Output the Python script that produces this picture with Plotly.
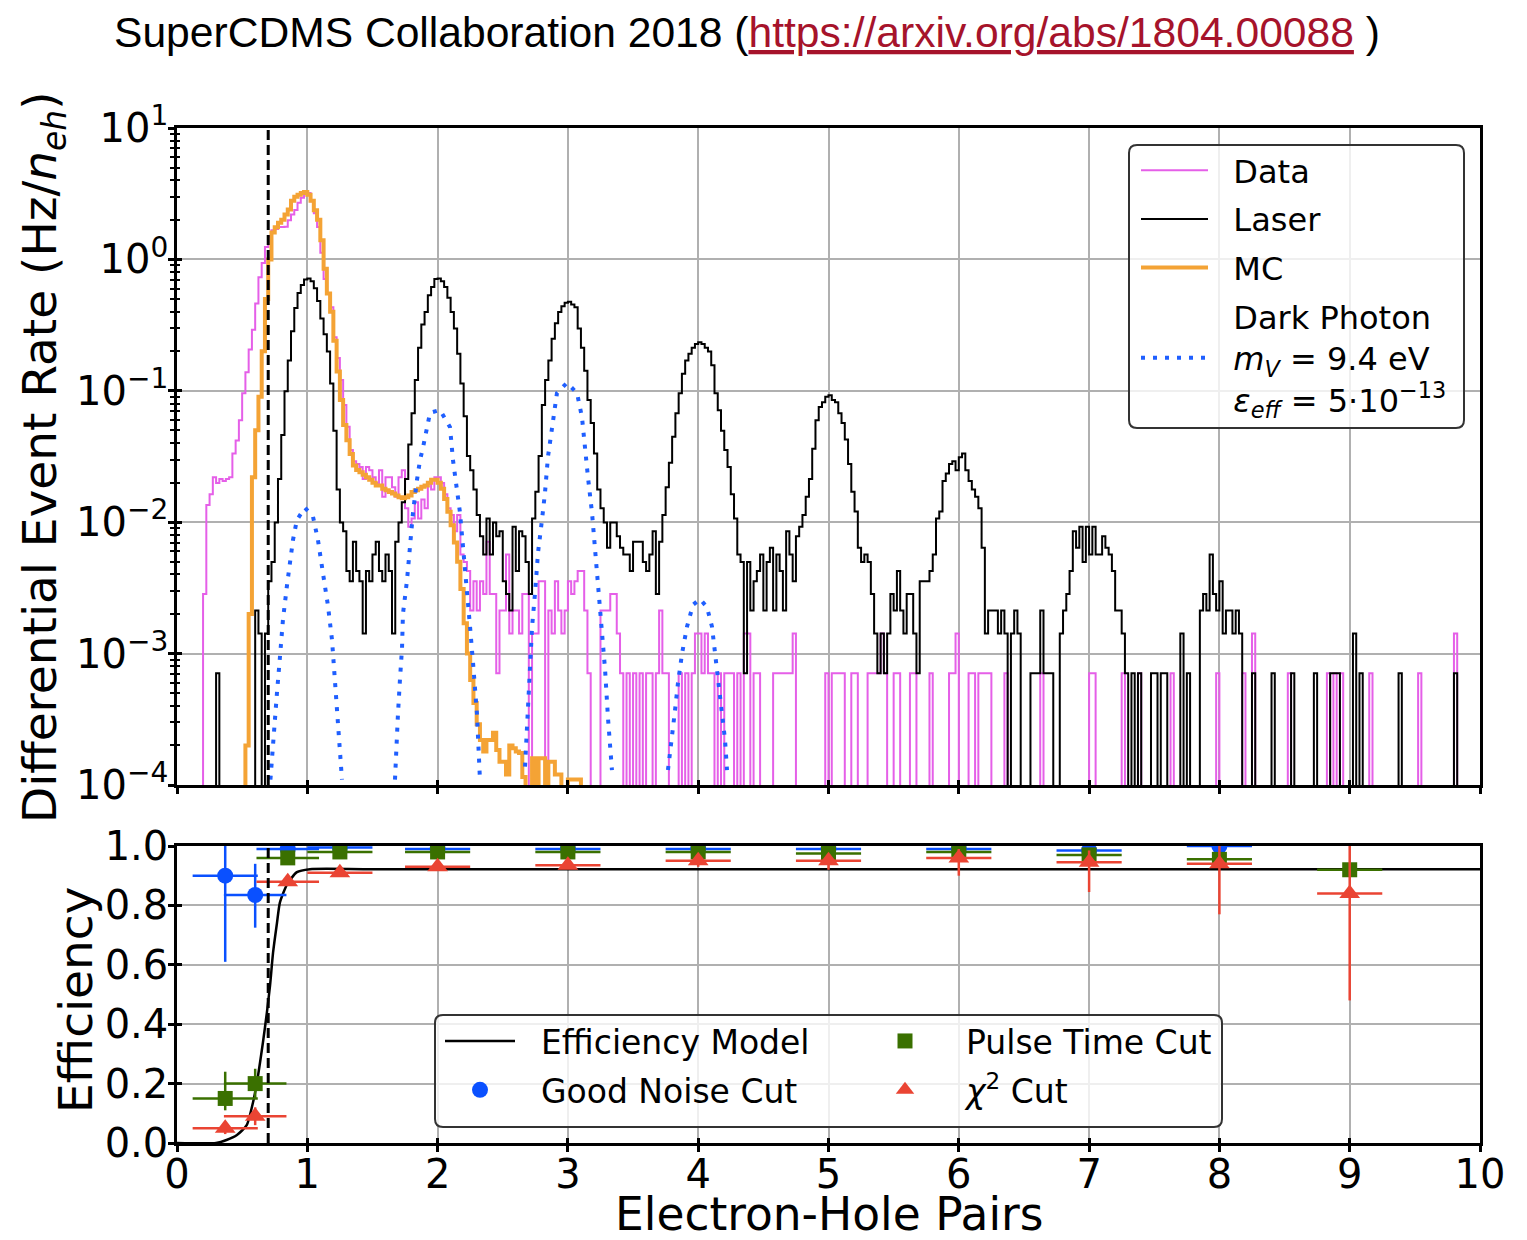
import numpy as np
import plotly.graph_objects as go

# ------------------------------------------------------------------ data
BIN_WIDTH = 0.025          # electron-hole pairs per histogram bin
N_BINS = 400               # 0 .. 10 pairs
RATE_PER_COUNT = 7.1e-4    # Hz / n_eh corresponding to one event in a bin
THRESHOLD = 0.7            # analysis threshold (dashed line)

# Data histogram (counts per bin), 10 bins per row
DATA_COUNTS = [
    0, 0, 0, 0, 0, 0, 0, 0, 4, 19,
    23, 31, 28, 30, 29, 30, 31, 47, 59, 84,
    135, 195, 290, 410, 650, 1030, 1320, 1750, 2100, 2350,
    2400, 2480, 2480, 2500, 2800, 3100, 3340, 3800, 4140, 4600,
    4500, 3900, 3160, 2480, 1580, 1000, 780, 610, 360, 250,
    170, 110, 75, 50, 41, 39, 37, 30, 37, 35,
    31, 28, 35, 22, 31, 31, 26, 22, 31, 35,
    18, 13, 15, 20, 15, 21, 18, 28, 25, 31,
    31, 28, 23, 18, 16, 12, 16, 8, 7, 6,
    3, 5, 3, 5, 4, 10, 4, 4, 1, 3,
    3, 8, 2, 3, 3, 2, 4, 4, 0, 2,
    2, 5, 5, 0, 3, 2, 5, 3, 2, 3,
    5, 4, 5, 6, 6, 3, 1, 0, 0, 0,
    3, 3, 3, 4, 4, 2, 1, 0, 1, 0,
    1, 0, 1, 0, 1, 1, 0, 1, 3, 1,
    1, 0, 0, 0, 1, 0, 1, 0, 1, 2,
    2, 1, 2, 1, 1, 0, 1, 0, 1, 1,
    1, 0, 1, 0, 2, 2, 0, 1, 1, 0,
    0, 0, 0, 1, 1, 1, 1, 1, 1, 2,
    0, 0, 0, 0, 0, 0, 0, 0, 0, 1,
    0, 1, 1, 1, 1, 0, 0, 1, 1, 0,
    0, 0, 1, 1, 1, 1, 2, 1, 0, 0,
    1, 1, 0, 0, 0, 1, 1, 0, 0, 0,
    0, 1, 0, 0, 0, 0, 0, 1, 1, 2,
    0, 0, 0, 1, 1, 0, 1, 1, 1, 1,
    0, 0, 0, 0, 1, 0, 0, 0, 0, 0,
    0, 0, 0, 0, 0, 1, 0, 0, 0, 0,
    0, 0, 0, 0, 0, 0, 0, 0, 0, 0,
    1, 1, 0, 0, 0, 0, 0, 0, 0, 0,
    1, 0, 0, 0, 0, 1, 0, 0, 0, 0,
    0, 0, 0, 0, 0, 1, 0, 0, 0, 0,
    0, 0, 0, 0, 0, 0, 0, 0, 0, 1,
    0, 0, 0, 0, 0, 0, 0, 1, 0, 0,
    2, 0, 0, 0, 0, 0, 0, 0, 0, 0,
    0, 1, 0, 0, 0, 0, 0, 0, 0, 0,
    0, 0, 0, 1, 0, 1, 0, 1, 0, 0,
    0, 0, 0, 0, 0, 0, 1, 0, 0, 0,
    0, 0, 0, 0, 0, 0, 0, 0, 0, 0,
    0, 1, 0, 0, 0, 0, 0, 0, 0, 0,
    0, 0, 2, 0, 0, 0, 0, 0, 0, 0,
]

# Laser calibration histogram (counts per bin), 10 bins per row
LASER_COUNTS = [
    0, 0, 0, 0, 0, 0, 0, 0, 0, 0,
    0, 0, 1, 0, 0, 0, 0, 0, 0, 0,
    0, 0, 0, 0, 3, 2, 0, 2, 5, 7,
    14, 30, 65, 140, 240, 400, 600, 780, 900, 990,
    1010, 960, 850, 680, 500, 380, 280, 160, 70, 25,
    14, 12, 6, 5, 10, 6, 5, 2, 6, 5,
    8, 10, 6, 5, 8, 6, 2, 10, 14, 20,
    30, 55, 95, 170, 300, 450, 560, 750, 870, 1000,
    1010, 960, 870, 720, 560, 420, 270, 160, 90, 45,
    35, 25, 16, 11, 8, 15, 8, 14, 11, 12,
    5, 4, 3, 13, 6, 12, 11, 7, 4, 15,
    24, 45, 110, 170, 240, 350, 460, 560, 620, 660,
    670, 640, 610, 420, 300, 200, 120, 80, 47, 25,
    18, 14, 9, 14, 14, 11, 9, 8, 8, 6,
    10, 10, 10, 7, 6, 8, 12, 4, 10, 16,
    26, 40, 63, 95, 135, 190, 240, 270, 300, 320,
    330, 320, 300, 280, 220, 135, 100, 70, 50, 37,
    23, 15, 8, 7, 1, 7, 3, 5, 6, 8,
    3, 7, 9, 3, 8, 6, 3, 12, 8, 5,
    11, 13, 16, 22, 30, 51, 84, 106, 115, 127,
    130, 120, 115, 95, 80, 60, 39, 24, 17, 9,
    7, 8, 7, 4, 2, 1, 2, 1, 2, 4,
    3, 6, 3, 2, 4, 4, 2, 1, 5, 5,
    5, 6, 8, 15, 17, 29, 33, 39, 41, 35,
    44, 47, 35, 29, 25, 22, 18, 9, 2, 3,
    3, 3, 2, 3, 2, 0, 2, 3, 2, 0,
    0, 0, 1, 1, 1, 3, 1, 1, 1, 0,
    0, 2, 3, 4, 6, 12, 9, 13, 7, 13,
    8, 13, 8, 8, 11, 9, 8, 6, 3, 3,
    2, 1, 0, 1, 0, 1, 0, 0, 0, 1,
    1, 0, 1, 1, 0, 0, 0, 0, 2, 0,
    1, 0, 0, 0, 3, 4, 3, 8, 4, 3,
    5, 2, 3, 3, 2, 3, 2, 0, 0, 0,
    1, 0, 0, 0, 0, 0, 1, 0, 0, 0,
    0, 0, 1, 0, 0, 0, 0, 0, 0, 1,
    0, 0, 0, 0, 1, 1, 1, 0, 0, 0,
    0, 2, 0, 1, 0, 0, 0, 0, 0, 0,
    0, 0, 0, 0, 0, 1, 0, 0, 0, 0,
    0, 0, 0, 0, 0, 0, 0, 0, 0, 0,
    0, 0, 1, 0, 0, 0, 0, 0, 0, 0,
]

# Monte-Carlo prediction (Hz / n_eh), bins starting at MC_FIRST_BIN
MC_FIRST_BIN = 21
MC_RATE = [
    2e-4, 2e-3, 0.022, 0.05, 0.09, 0.2, 0.5, 1.0, 1.6,
    1.76, 1.9, 2.0, 2.2, 2.4, 2.8, 3.0, 3.1, 3.2, 3.26,
    3.1, 2.8, 2.37, 2.0, 1.4, 0.85, 0.55, 0.40, 0.24, 0.14,
    0.085, 0.055, 0.042, 0.033, 0.027, 0.025, 0.024, 0.023, 0.022, 0.021,
    0.020, 0.019, 0.019, 0.018, 0.0175, 0.017, 0.0165, 0.016, 0.0155, 0.0152,
    0.0155, 0.016, 0.017, 0.0175, 0.018, 0.0186, 0.019, 0.020, 0.021, 0.021,
    0.020, 0.018, 0.015, 0.012, 0.0095, 0.007, 0.005, 0.0031, 0.0017, 0.001,
    6.3e-4, 4.2e-4, 2.9e-4, 2.2e-4, 1.8e-4, 2.2e-4, 2.2e-4, 2.5e-4, 1.85e-4, 1.5e-4,
    1.5e-4, 1.2e-4, 2e-4, 1.9e-4, 1.8e-4, 1.75e-4, 1.15e-4, 0, 0, 1.6e-4,
    0, 1.6e-4, 1.6e-4, 0, 1.5e-4, 1.5e-4, 1.2e-4, 1.2e-4, 0, 0,
    1.1e-4, 1.1e-4, 1.1e-4, 1.1e-4,
]

# Dark photon signal model (m_V = 9.4 eV), None separates the peaks
DP_X = [0.717, 0.737, 0.767, 0.79, 0.813, 0.844, 0.867, 0.89, 0.92, 0.982, 1.044,
        1.082, 1.12, 1.159, 1.19, 1.213, 1.236, 1.266, None,
        1.673, 1.688, 1.696, 1.711, 1.727, 1.734, 1.765, 1.788, 1.811, 1.842,
        1.865, 1.888, 1.942, 2.018, 2.095, 2.118, 2.149, 2.172, 2.195, 2.226,
        2.249, 2.272, 2.302, 2.325, None,
        2.671, 2.694, 2.709, 2.725, 2.748, 2.771, 2.801, 2.824, 2.847, 2.878,
        2.916, 2.993, 3.07, 3.108, 3.131, 3.154, 3.185, 3.208, 3.231, 3.262,
        3.285, 3.308, 3.338, None,
        3.768, 3.799, 3.822, 3.845, 3.876, 3.914, 3.96, 4.014, 4.067, 4.106,
        4.129, 4.152, 4.183, 4.206, 4.221]
DP_Y = [1.1e-4, 2.2e-4, 5e-4, 9.4e-4, 1.8e-3, 3.3e-3, 5.2e-3, 7.3e-3, 0.0104, 0.0129, 0.011,
        7.3e-3, 4.1e-3, 2.3e-3, 1.26e-3, 6.3e-4, 3e-4, 1.1e-4, None,
        1.1e-4, 1.95e-4, 3.5e-4, 6.3e-4, 1.1e-3, 2e-3, 3.6e-3, 6.5e-3, 0.0118, 0.021,
        0.0297, 0.037, 0.068, 0.0714, 0.053, 0.0297, 0.0186, 0.0118, 6.5e-3, 3.2e-3,
        1.6e-3, 8.5e-4, 3.5e-4, 1.1e-4, None,
        1.38e-4, 4.2e-4, 7.9e-4, 1.6e-3, 2.9e-3, 5.9e-3, 0.0104, 0.0167, 0.0314, 0.05,
        0.096, 0.115, 0.096, 0.063, 0.04, 0.022, 0.0118, 6.5e-3, 3.5e-3, 1.6e-3,
        7.6e-4, 3.2e-4, 1.3e-4, None,
        1.3e-4, 2.2e-4, 3.7e-4, 6e-4, 1.0e-3, 1.6e-3, 2.35e-3, 2.6e-3, 2.26e-3, 1.6e-3,
        1e-3, 6e-4, 3.7e-4, 2.2e-4, 1.3e-4]

# Efficiency model curve
EFF_MODEL_X = [0.0, 0.30, 0.38, 0.46, 0.535, 0.585, 0.61, 0.66, 0.69, 0.714, 0.737,
               0.767, 0.79, 0.844, 0.92, 1.02, 1.5, 10.0]
EFF_MODEL_Y = [0.0, 0.0, 0.01, 0.027, 0.06, 0.14, 0.195, 0.34, 0.44, 0.53, 0.64,
               0.74, 0.81, 0.87, 0.912, 0.922, 0.922, 0.922]

# Measured cut efficiencies
EFF_X = [0.37, 0.60, 0.85, 1.25, 2, 3, 4, 5, 6, 7, 8, 9]
EFF_XERR = [0.25, 0.24, 0.24, 0.25, 0.25, 0.25, 0.25, 0.25, 0.25, 0.25, 0.25, 0.25]

NOISE_X = [0.37, 0.60, 0.85, 1.25, 2, 3, 4, 5, 6, 7, 8]
NOISE_XERR = [0.25, 0.24, 0.24, 0.25, 0.25, 0.25, 0.25, 0.25, 0.25, 0.25, 0.25]
NOISE_Y = [0.90, 0.835, 0.99, 0.995, 0.99, 0.99, 0.99, 0.99, 0.99, 0.985, 1.0]
NOISE_EP = [0.10, 0.105, 0.01, 0.005, 0.01, 0.01, 0.01, 0.01, 0.01, 0.01, 0.01]
NOISE_EM = [0.29, 0.11, 0.01, 0.005, 0.01, 0.01, 0.01, 0.01, 0.01, 0.01, 0.01]

PULSE_Y = [0.15, 0.20, 0.96, 0.98, 0.98, 0.98, 0.98, 0.975, 0.98, 0.97, 0.955, 0.92]
PULSE_EP = [0.09, 0.05, 0.01, 0.01, 0.01, 0.01, 0.01, 0.01, 0.01, 0.01, 0.01, 0.005]
PULSE_EM = [0.04, 0.05, 0.01, 0.01, 0.01, 0.01, 0.01, 0.01, 0.01, 0.01, 0.01, 0.005]

CHI2_Y = [0.05, 0.09, 0.88, 0.91, 0.93, 0.935, 0.95, 0.95, 0.96, 0.945, 0.94, 0.84]
CHI2_EP = [0.02, 0.03, 0.01, 0.01, 0.01, 0.01, 0.01, 0.02, 0.03, 0.04, 0.06, 0.17]
CHI2_EM = [0.02, 0.03, 0.01, 0.01, 0.01, 0.01, 0.02, 0.03, 0.06, 0.10, 0.17, 0.36]

Y_TICK_VALS = [1e-4, 1e-3, 1e-2, 1e-1, 1e0, 1e1]
Y_TICK_TEXT = ["10<sup>\u22124</sup>", "10<sup>\u22123</sup>", "10<sup>\u22122</sup>",
               "10<sup>\u22121</sup>", "10<sup>0</sup>", "10<sup>1</sup>"]
Y_MINOR_VALS = [m * 10.0 ** e for e in range(-4, 1) for m in range(2, 10)]
X_TICK_VALS = list(range(0, 11))
EFF_TICK_VALS = [0.0, 0.2, 0.4, 0.6, 0.8, 1.0]

# ------------------------------------------------------------------ layout geometry
W, H = 1527, 1240
PL, PR, PT, PB = 177, 1480, 128, 1143


def px2x(px):
    return (px - PL) / (PR - PL)


def px2y(py):
    return (PB - py) / (PB - PT)


FONT = "DejaVu Sans"
BLACK = "#000000"
GRID = "#b0b0b0"
FLOOR = 1e-9   # empty bins are drawn down below the log-axis floor
SP = "\u00a0\u00a0"   # gap between legend symbol and label


def step_xy(values, first_bin=0, scale=1.0):
    v = np.asarray(values, dtype=float) * scale
    n = len(v)
    e = (first_bin + np.arange(n + 1)) * BIN_WIDTH
    y = np.where(v > 0, v, FLOOR)
    xs = np.concatenate([[e[0]], e[:-1], [e[-1]]])
    ys = np.concatenate([[FLOOR], y, [FLOOR]])
    return xs, ys


fig = go.Figure()

# ---- top panel: spectra
dx, dy = step_xy(DATA_COUNTS, 0, RATE_PER_COUNT)
fig.add_trace(go.Scatter(x=dx, y=dy, mode="lines", line=dict(color="#e55fe8", width=2, shape="hv"),
                         name=SP + "Data", legendgroup="g1", xaxis="x", yaxis="y", legend="legend"))
lx, ly = step_xy(LASER_COUNTS, 0, RATE_PER_COUNT)
fig.add_trace(go.Scatter(x=lx, y=ly, mode="lines", line=dict(color=BLACK, width=2, shape="hv"),
                         name=SP + "Laser", legendgroup="g2", xaxis="x", yaxis="y", legend="legend"))
mx, my = step_xy(MC_RATE, MC_FIRST_BIN, 1.0)
fig.add_trace(go.Scatter(x=mx, y=my, mode="lines", line=dict(color="#f4a335", width=4, shape="hv"),
                         name=SP + "MC", legendgroup="g3", xaxis="x", yaxis="y", legend="legend"))
fig.add_trace(go.Scatter(x=DP_X, y=DP_Y, mode="lines", connectgaps=False,
                         line=dict(color="#1f5fff", width=4, dash="4px,8px"),
                         name=SP + "Dark Photon<br>" + SP + "<i>m</i><sub><i>V</i></sub> = 9.4 eV<br>" + SP +
                              "<i>\u03b5</i><sub><i>eff</i></sub> = 5\u00b710<sup>\u221213</sup>",
                         legendgroup="g4", xaxis="x", yaxis="y", legend="legend"))

# ---- bottom panel: efficiencies
fig.add_trace(go.Scatter(x=EFF_MODEL_X, y=EFF_MODEL_Y, mode="lines",
                         line=dict(color=BLACK, width=2.5, shape="spline", smoothing=0.6),
                         name=SP + "Efficiency Model", legendgroup="h1",
                         xaxis="x2", yaxis="y2", legend="legend2"))
fig.add_trace(go.Scatter(x=NOISE_X, y=NOISE_Y, mode="markers",
                         marker=dict(color="#0a50ff", size=16, symbol="circle"),
                         error_x=dict(type="data", array=NOISE_XERR, color="#0a50ff", thickness=2.5, width=0),
                         error_y=dict(type="data", array=NOISE_EP, arrayminus=NOISE_EM, symmetric=False,
                                      color="#0a50ff", thickness=2.5, width=0),
                         name=SP + "Good Noise Cut", legendgroup="h2",
                         xaxis="x2", yaxis="y2", legend="legend2"))
fig.add_trace(go.Scatter(x=EFF_X, y=PULSE_Y, mode="markers",
                         marker=dict(color="#3a7000", size=15, symbol="square"),
                         error_x=dict(type="data", array=EFF_XERR, color="#3a7000", thickness=2.5, width=0),
                         error_y=dict(type="data", array=PULSE_EP, arrayminus=PULSE_EM, symmetric=False,
                                      color="#3a7000", thickness=2.5, width=0),
                         name=SP + "Pulse Time Cut", legendgroup="h3",
                         xaxis="x2", yaxis="y2", legend="legend3"))
fig.add_trace(go.Scatter(x=EFF_X, y=CHI2_Y, mode="markers",
                         marker=dict(color="#ea4433", size=18, symbol="triangle-up"),
                         error_x=dict(type="data", array=EFF_XERR, color="#ea4433", thickness=2.5, width=0),
                         error_y=dict(type="data", array=CHI2_EP, arrayminus=CHI2_EM, symmetric=False,
                                      color="#ea4433", thickness=2.5, width=0),
                         name=SP + "<i>\u03c7</i><sup>2</sup> Cut", legendgroup="h4",
                         xaxis="x2", yaxis="y2", legend="legend3"))

# ---- empty traces that carry the inner halves of the in-out tick marks
fig.add_trace(go.Scatter(x=[None], y=[None], xaxis="x3", yaxis="y3", showlegend=False, hoverinfo="skip"))
fig.add_trace(go.Scatter(x=[None], y=[None], xaxis="x4", yaxis="y4", showlegend=False, hoverinfo="skip"))

# ---- threshold lines
for xr, yr in (("x", "y domain"), ("x2", "y2 domain")):
    fig.add_shape(type="line", xref=xr, yref=yr, x0=THRESHOLD, x1=THRESHOLD, y0=0, y1=1,
                  line=dict(color=BLACK, width=3, dash="10px,5px"), layer="above")


# ---- rounded legend frames
def rounded_box(px0, py0, px1, py1, r=8):
    x0, x1 = px2x(px0), px2x(px1)
    y0, y1 = px2y(py1), px2y(py0)
    rx, ry = r / (PR - PL), r / (PB - PT)
    return (f"M{x0 + rx},{y0} L{x1 - rx},{y0} Q{x1},{y0} {x1},{y0 + ry} "
            f"L{x1},{y1 - ry} Q{x1},{y1} {x1 - rx},{y1} L{x0 + rx},{y1} "
            f"Q{x0},{y1} {x0},{y1 - ry} L{x0},{y0 + ry} Q{x0},{y0} {x0 + rx},{y0} Z")


for box in ((1129, 145, 1464, 428), (435, 1015, 1222, 1127)):
    fig.add_shape(type="path", xref="paper", yref="paper", path=rounded_box(*box),
                  fillcolor="rgba(255,255,255,0.8)", line=dict(color="#333333", width=2), layer="above")

axis_common = dict(showline=True, linecolor=BLACK, linewidth=2.5, mirror=True,
                   ticks="outside", ticklen=6, tickwidth=2.5, tickcolor=BLACK,
                   showgrid=True, gridcolor=GRID, gridwidth=2, zeroline=False,
                   tickfont=dict(family=FONT, size=40, color=BLACK))
inner_ticks = dict(showline=False, showgrid=False, zeroline=False, showticklabels=False,
                   ticks="inside", ticklen=5, tickwidth=2.5, tickcolor=BLACK)

top_y = (px2y(785), 1.0)
bot_y = (0.0, px2y(846))

fig.update_layout(
    width=W, height=H,
    margin=dict(l=PL, r=W - PR, t=PT, b=H - PB, pad=0),
    paper_bgcolor="white", plot_bgcolor="white",
    font=dict(family=FONT, size=32, color=BLACK),
    xaxis=dict(axis_common, domain=[0, 1], anchor="y", range=[0, 10], tickvals=X_TICK_VALS,
               showticklabels=False, matches="x2"),
    yaxis=dict(axis_common, domain=list(top_y), anchor="x", type="log", range=[-4, 1],
               tickvals=Y_TICK_VALS, ticktext=Y_TICK_TEXT, ticklabelstandoff=-8,
               minor=dict(tickvals=Y_MINOR_VALS, ticks="outside", ticklen=4, tickwidth=1.5,
                          tickcolor=BLACK, showgrid=False)),
    xaxis2=dict(axis_common, domain=[0, 1], anchor="y2", range=[0, 10], tickvals=X_TICK_VALS,
                ticklabelstandoff=-12),
    yaxis2=dict(axis_common, domain=list(bot_y), anchor="x2", range=[0, 1.0], tickvals=EFF_TICK_VALS,
                tickformat=".1f", ticklabelstandoff=-8),
    xaxis3=dict(inner_ticks, overlaying="x", anchor="y3", side="bottom", range=[0, 10],
                tickvals=X_TICK_VALS),
    yaxis3=dict(inner_ticks, overlaying="y", anchor="x3", side="left", type="log", range=[-4, 1],
                tickvals=Y_TICK_VALS,
                minor=dict(tickvals=Y_MINOR_VALS, ticks="inside", ticklen=3, tickwidth=1.5,
                           tickcolor=BLACK, showgrid=False)),
    xaxis4=dict(inner_ticks, overlaying="x2", anchor="y4", side="bottom", range=[0, 10],
                tickvals=X_TICK_VALS),
    yaxis4=dict(inner_ticks, overlaying="y2", anchor="x4", side="left", range=[0, 1.0],
                tickvals=EFF_TICK_VALS),
    showlegend=True,
    legend=dict(x=px2x(1136), y=px2y(143), xanchor="left", yanchor="top",
                bgcolor="rgba(0,0,0,0)", borderwidth=0, itemwidth=67, tracegroupgap=4,
                font=dict(family=FONT, size=32, color=BLACK)),
    legend2=dict(x=px2x(440), y=px2y(1013), xanchor="left", yanchor="top",
                 bgcolor="rgba(0,0,0,0)", borderwidth=0, itemwidth=70, tracegroupgap=3,
                 font=dict(family=FONT, size=33, color=BLACK)),
    legend3=dict(x=px2x(865), y=px2y(1013), xanchor="left", yanchor="top",
                 bgcolor="rgba(0,0,0,0)", borderwidth=0, itemwidth=70, tracegroupgap=3,
                 font=dict(family=FONT, size=33, color=BLACK)),
)

# ---- titles
fig.add_annotation(xref="paper", yref="paper", x=px2x(747), y=px2y(32), xanchor="center", yanchor="middle",
                   showarrow=False,
                   text='SuperCDMS Collaboration 2018 (<span style="color:#a6132b"><u>'
                        'https://arxiv.org/abs/1804.00088</u></span> )',
                   font=dict(family="Liberation Sans", size=42.6, color=BLACK))
fig.add_annotation(xref="paper", yref="paper", x=px2x(43), y=px2y(457), xanchor="center", yanchor="middle",
                   showarrow=False, textangle=-90,
                   text="Differential Event Rate (Hz/<i>n</i><sub><i>eh</i></sub>)",
                   font=dict(family=FONT, size=47, color=BLACK))
fig.add_annotation(xref="paper", yref="paper", x=px2x(75), y=px2y(1000), xanchor="center", yanchor="middle",
                   showarrow=False, textangle=-90, text="Efficiency",
                   font=dict(family=FONT, size=47, color=BLACK))
fig.add_annotation(xref="paper", yref="paper", x=px2x(829), y=px2y(1214), xanchor="center", yanchor="middle",
                   showarrow=False, text="Electron-Hole Pairs", borderpad=0,
                   font=dict(family=FONT, size=45.5, color=BLACK))

fig.write_html("out.html")
